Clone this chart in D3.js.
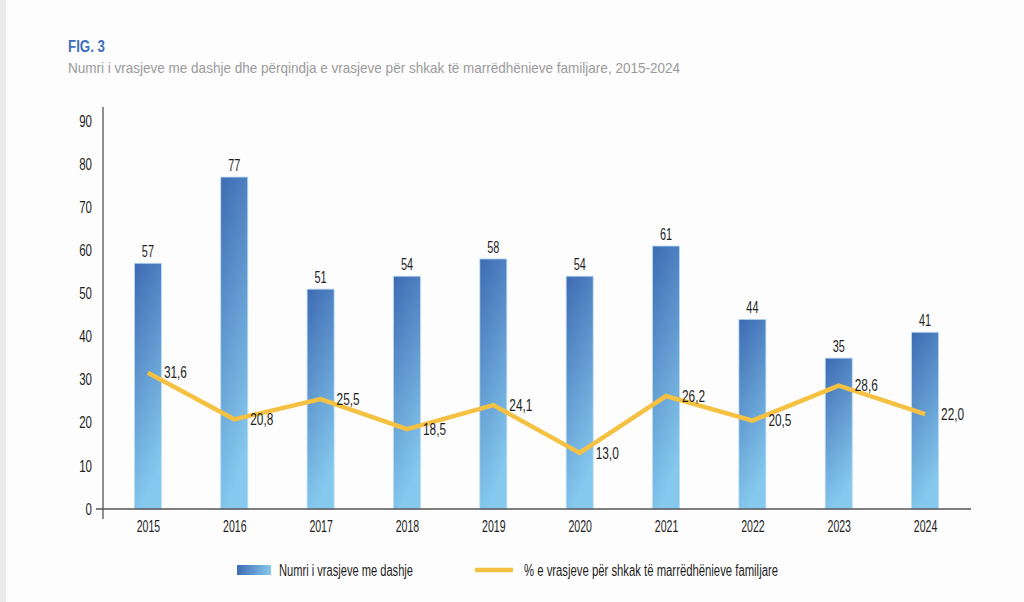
<!DOCTYPE html>
<meta charset="utf-8">
<style>
html, body {
  margin: 0;
  padding: 0;
  background: #fdfdfd;
}
svg {
  display: block;
  font-family: "Liberation Sans", Arial, sans-serif;
}
.axis-line {
  stroke: #555;
  stroke-width: 1.3px;
}
.lbl {
  fill: #1e1e1e;
  font-size: 16px;
}
</style>
<body>
<script src="https://d3js.org/d3.v7.min.js"></script>
<script>

var width = 1024,
    height = 602;

// data
var years = ["2015", "2016", "2017", "2018", "2019", "2020", "2021", "2022", "2023", "2024"];
var murders = [57, 77, 51, 54, 58, 54, 61, 44, 35, 41];
var familyShare = [31.6, 20.8, 25.5, 18.5, 24.1, 13.0, 26.2, 20.5, 28.6, 22.0];
var yTicks = [0, 10, 20, 30, 40, 50, 60, 70, 80, 90];

var title = "FIG. 3";
var subtitle = "Numri i vrasjeve me dashje dhe përqindja e vrasjeve për shkak të marrëdhënieve familjare, 2015-2024";
var legendBars = "Numri i vrasjeve me dashje";
var legendLine = "% e vrasjeve për shkak të marrëdhënieve familjare";

var fmt = function(v){ return d3.format(".1f")(v).replace(".", ","); };

// the original uses a condensed face; squeeze Liberation Sans to match
function squeeze(sel, k){
  sel.each(function(){
    var w = this.getComputedTextLength();
    d3.select(this)
      .attr("textLength", w * k)
      .attr("lengthAdjust", "spacingAndGlyphs");
  });
}
function fitTo(sel, w){
  sel.attr("textLength", w).attr("lengthAdjust", "spacingAndGlyphs");
}

var svg = d3.select("body").append("svg")
    .attr("width", width)
    .attr("height", height);

// grey strip at the left edge of the page
svg.append("rect")
    .attr("x", 0).attr("y", 0)
    .attr("width", 6).attr("height", height)
    .attr("fill", "#ebebeb");

var defs = svg.append("defs");
var gv = defs.append("linearGradient")
    .attr("id", "barGrad")
    .attr("x1", "0").attr("y1", "0")
    .attr("x2", "0.25").attr("y2", "1");
gv.append("stop").attr("offset", "0%").attr("stop-color", "#3e6bb3");
gv.append("stop").attr("offset", "100%").attr("stop-color", "#85c9ee");

var gh = defs.append("linearGradient")
    .attr("id", "legGrad")
    .attr("x1", "0").attr("y1", "0")
    .attr("x2", "1").attr("y2", "0");
gh.append("stop").attr("offset", "0%").attr("stop-color", "#3e6bb3");
gh.append("stop").attr("offset", "100%").attr("stop-color", "#85c9ee");

// titles
svg.append("text")
    .attr("x", 68).attr("y", 52)
    .attr("fill", "#3d6fbd")
    .attr("font-size", "16px")
    .attr("font-weight", "bold")
    .text(title)
    .call(fitTo, 37);

svg.append("text")
    .attr("x", 68).attr("y", 73)
    .attr("fill", "#9a9a9a")
    .attr("font-size", "15px")
    .text(subtitle)
    .call(fitTo, 612);

// scales
var x = d3.scalePoint()
    .domain(years)
    .range([103, 970])
    .padding(0.52);

var y = d3.scaleLinear()
    .domain([0, 90])
    .range([509, 121]);

var barW = 27;

// bars
svg.selectAll(".bar")
  .data(murders)
  .enter().append("rect")
    .attr("class", "bar")
    .attr("x", function(d, i){ return x(years[i]) - barW / 2; })
    .attr("y", function(d){ return y(d); })
    .attr("width", barW)
    .attr("height", function(d){ return y(0) - y(d); })
    .attr("fill", "url(#barGrad)")
    .attr("stroke", "#b9dcf3")
    .attr("stroke-width", 0.8);

svg.selectAll(".barlbl")
  .data(murders)
  .enter().append("text")
    .attr("class", "lbl")
    .attr("text-anchor", "middle")
    .attr("font-size", "17px")
    .attr("x", function(d, i){ return x(years[i]); })
    .attr("y", function(d){ return y(d) - 6; })
    .text(function(d){ return d; })
    .call(squeeze, 0.68);

// axes
var yAxis = svg.append("g")
    .attr("transform", "translate(103,0)")
    .call(d3.axisLeft(y).tickValues(yTicks).tickSize(0).tickPadding(11));
yAxis.select(".domain").remove();
yAxis.selectAll("text")
    .attr("fill", "#1e1e1e")
    .attr("font-size", "16px")
    .attr("font-family", null)
    .call(squeeze, 0.72);

var xAxis = svg.append("g")
    .attr("transform", "translate(0,509)")
    .call(d3.axisBottom(x).tickSize(0).tickPadding(12));
xAxis.select(".domain").remove();
xAxis.selectAll("text")
    .attr("fill", "#1e1e1e")
    .attr("font-size", "16px")
    .attr("font-family", null)
    .call(squeeze, 0.66);

svg.append("line")
    .attr("class", "axis-line")
    .attr("x1", 103).attr("x2", 103)
    .attr("y1", 107).attr("y2", 519);
svg.append("line")
    .attr("class", "axis-line")
    .attr("x1", 96).attr("x2", 971)
    .attr("y1", y(0)).attr("y2", y(0));

// share line
var line = d3.line()
    .x(function(d, i){ return x(years[i]); })
    .y(function(d){ return y(d); });

svg.append("path")
    .datum(familyShare)
    .attr("d", line)
    .attr("fill", "none")
    .attr("stroke", "#f5c143")
    .attr("stroke-width", 4.5)
    .attr("stroke-linejoin", "miter");

svg.selectAll(".linelbl")
  .data(familyShare)
  .enter().append("text")
    .attr("class", "lbl")
    .attr("x", function(d, i){ return x(years[i]) + 16; })
    .attr("y", function(d){ return y(d); })
    .attr("dy", "0.35em")
    .text(fmt)
    .call(squeeze, 0.74);

// legend
svg.append("rect")
    .attr("x", 237).attr("y", 565)
    .attr("width", 34).attr("height", 10)
    .attr("fill", "url(#legGrad)");
svg.append("text")
    .attr("class", "lbl")
    .attr("x", 279).attr("y", 570)
    .attr("dy", "0.35em")
    .text(legendBars)
    .call(fitTo, 134);

svg.append("line")
    .attr("x1", 475).attr("x2", 513)
    .attr("y1", 570).attr("y2", 570)
    .attr("stroke", "#f5c143")
    .attr("stroke-width", 4.5);
svg.append("text")
    .attr("class", "lbl")
    .attr("x", 524).attr("y", 570)
    .attr("dy", "0.35em")
    .text(legendLine)
    .call(fitTo, 254);

</script>
